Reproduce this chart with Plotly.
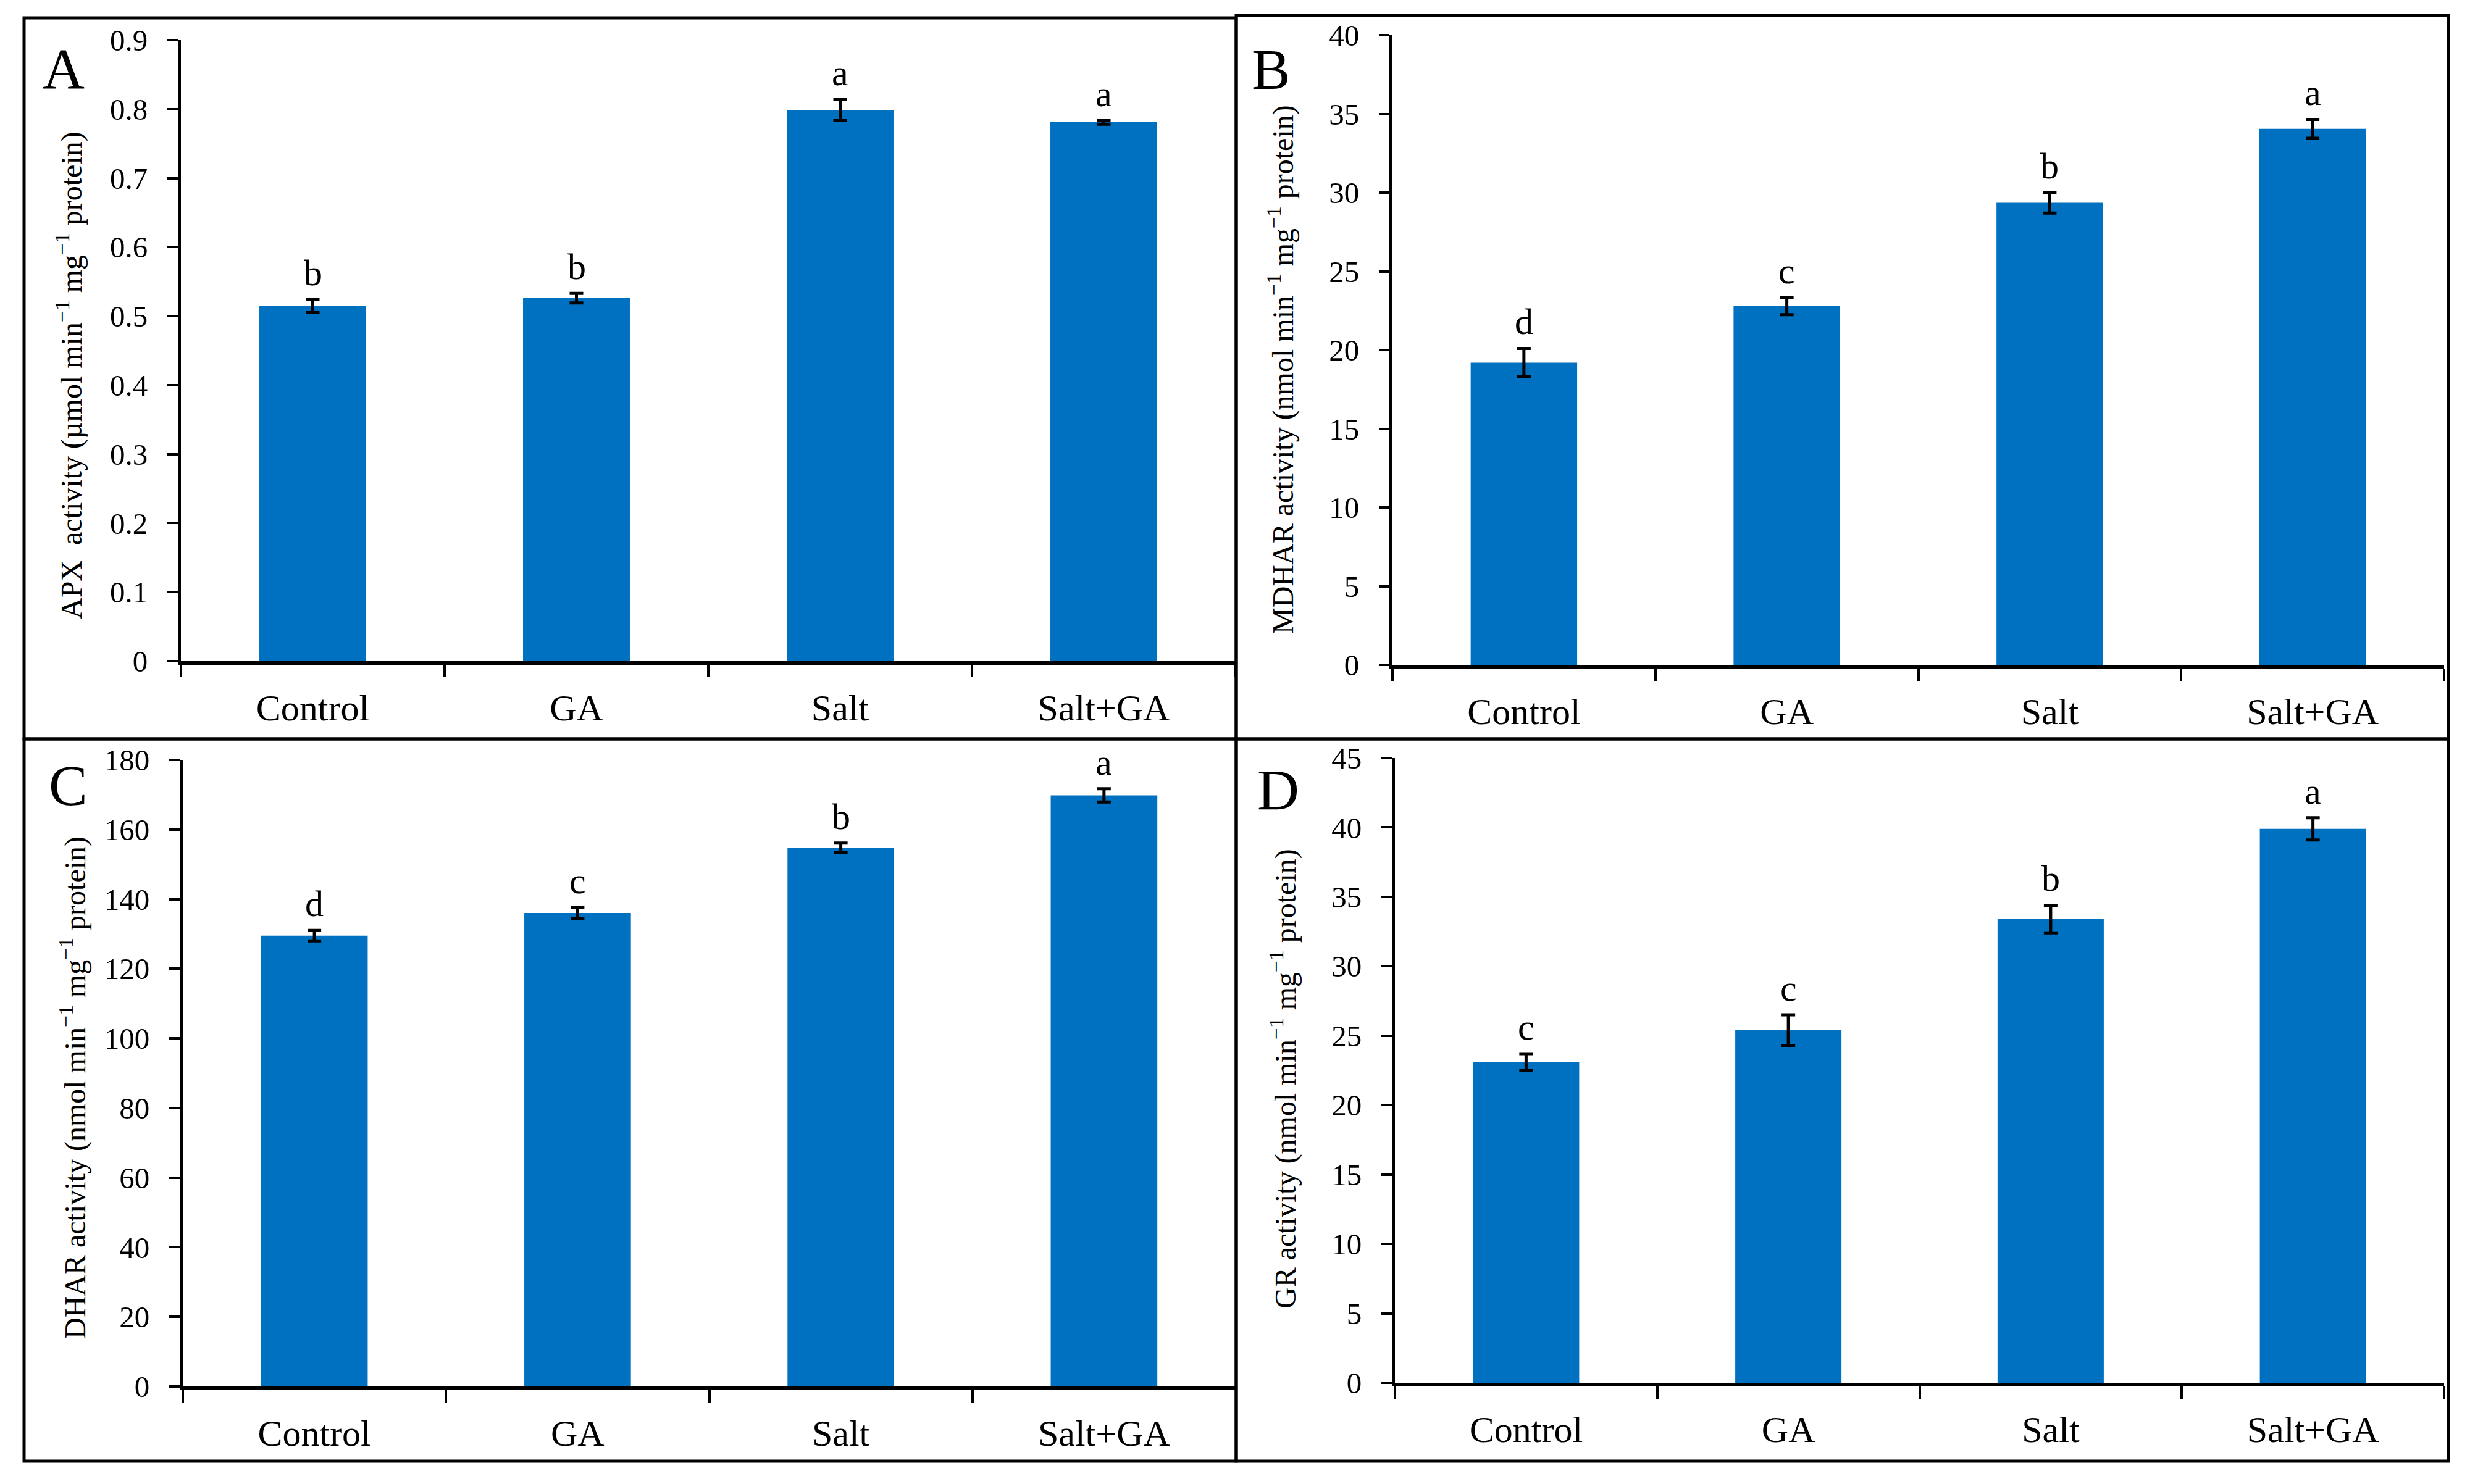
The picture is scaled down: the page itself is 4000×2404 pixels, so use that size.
import plotly.graph_objects as go

W, H = 4000, 2404

categories = ["Control", "GA", "Salt", "Salt+GA"]

apx_values = [0.515, 0.526, 0.799, 0.781]
apx_errors = [0.009, 0.007, 0.015, 0.003]
apx_letters = ["b", "b", "a", "a"]

mdhar_values = [19.2, 22.8, 29.35, 34.05]
mdhar_errors = [0.9, 0.55, 0.65, 0.6]
mdhar_letters = ["d", "c", "b", "a"]

dhar_values = [129.5, 136.0, 154.7, 169.8]
dhar_errors = [1.5, 1.6, 1.4, 1.9]
dhar_letters = ["d", "c", "b", "a"]

gr_values = [23.1, 25.4, 33.4, 39.9]
gr_errors = [0.6, 1.1, 1.0, 0.8]
gr_letters = ["c", "c", "b", "a"]

apx_ticks = [0, 0.1, 0.2, 0.3, 0.4, 0.5, 0.6, 0.7, 0.8, 0.9]
mdhar_ticks = [0, 5, 10, 15, 20, 25, 30, 35, 40]
dhar_ticks = [0, 20, 40, 60, 80, 100, 120, 140, 160, 180]
gr_ticks = [0, 5, 10, 15, 20, 25, 30, 35, 40, 45]

titles = [
    "APX  activity (µmol min<sup>−1</sup> mg<sup>−1</sup> protein)",
    "MDHAR activity (nmol min<sup>−1</sup> mg<sup>−1</sup> protein)",
    "DHAR activity (nmol min<sup>−1</sup> mg<sup>−1</sup> protein)",
    "GR activity (nmol min<sup>−1</sup> mg<sup>−1</sup> protein)",
]
panel_labels = ["A", "B", "C", "D"]

FONT = "Liberation Serif, Times New Roman, serif"
BLUE = "#0070C0"

def px_x(p):
    return p / W

def px_y(p):
    return 1 - p / H

# pixel geometry of each panel: (x0, x1, y_bottom, y_top)
geom = [
    (293, 2001, 1071, 65),
    (2255, 3958, 1077, 57),
    (296, 2001, 2246, 1231),
    (2259, 3958, 2240, 1228),
]
title_pos = [(112, 608), (2074, 599), (118, 1762), (2078, 1748)]
label_pos = [(103, 111), (2058, 112), (110, 1272), (2070, 1279)]

panels = [
    (apx_values, apx_errors, apx_letters, apx_ticks),
    (mdhar_values, mdhar_errors, mdhar_letters, mdhar_ticks),
    (dhar_values, dhar_errors, dhar_letters, dhar_ticks),
    (gr_values, gr_errors, gr_letters, gr_ticks),
]

fig = go.Figure()
annotations = []
shapes = []

for i, (vals, errs, letters, ticks) in enumerate(panels):
    n = i + 1
    xa = "x" if n == 1 else f"x{n}"
    ya = "y" if n == 1 else f"y{n}"
    fig.add_trace(go.Bar(
        x=categories, y=vals, width=0.405,
        marker=dict(color=BLUE, line=dict(width=0)),
        error_y=dict(type="data", array=errs, visible=True,
                     color="black", thickness=5, width=11),
        xaxis=xa, yaxis=ya, showlegend=False, cliponaxis=False,
    ))
    x0, x1, yb, yt = geom[i]
    xkey = "xaxis" if n == 1 else f"xaxis{n}"
    ykey = "yaxis" if n == 1 else f"yaxis{n}"
    fig.layout[xkey] = dict(
        domain=[px_x(x0), px_x(x1)], anchor=ya,
        type="category", range=[-0.5, 3.5], automargin=False,
        showline=True, linewidth=6, linecolor="black",
        ticks="outside", tickson="boundaries", ticklen=20, tickwidth=4,
        tickcolor="black", showgrid=False, zeroline=False,
        tickfont=dict(family=FONT, size=60, color="black"),
        ticklabelstandoff=18,
    )
    fig.layout[ykey] = dict(
        domain=[px_y(yb), px_y(yt)], anchor=xa,
        range=[ticks[0], ticks[-1]], tickvals=ticks, automargin=False,
        ticktext=[f"{t:g}" for t in ticks],
        showline=True, linewidth=5, linecolor="black",
        ticks="outside", ticklen=17, tickwidth=4, tickcolor="black",
        showgrid=False, zeroline=False,
        tickfont=dict(family=FONT, size=49, color="black"),
        ticklabelstandoff=22,
    )
    for c, v, e, l in zip(categories, vals, errs, letters):
        annotations.append(dict(
            x=c, y=v + e, xref=xa, yref=ya, text=l, showarrow=False,
            yanchor="bottom", yshift=8,
            font=dict(family=FONT, size=60, color="black"),
        ))
    tx, ty = title_pos[i]
    annotations.append(dict(
        x=px_x(tx), y=px_y(ty), xref="paper", yref="paper",
        text=titles[i], textangle=-90, showarrow=False,
        xanchor="center", yanchor="middle",
        font=dict(family=FONT, size=48, color="black"),
    ))
    lx, ly = label_pos[i]
    annotations.append(dict(
        x=px_x(lx), y=px_y(ly), xref="paper", yref="paper",
        text=panel_labels[i], showarrow=False,
        xanchor="center", yanchor="middle",
        font=dict(family=FONT, size=94, color="black"),
    ))

# panel frames
frames = [
    (39, 29, 2002, 1197),
    (2002, 25, 3965, 1197),
    (39, 1197, 2002, 2367),
    (2002, 1197, 3965, 2367),
]
for (a, b, c, d) in frames:
    shapes.append(dict(
        type="rect", xref="paper", yref="paper",
        x0=px_x(a), x1=px_x(c), y0=px_y(d), y1=px_y(b),
        line=dict(color="black", width=5), fillcolor="rgba(0,0,0,0)",
    ))

fig.update_layout(
    width=W, height=H,
    margin=dict(l=0, r=0, t=0, b=0, pad=0, autoexpand=False),
    paper_bgcolor="white", plot_bgcolor="white",
    annotations=annotations, shapes=shapes,
    showlegend=False,
)

fig.write_html(
    "out.html",
    config={"displayModeBar": False},
    post_script="document.body.style.margin='0';document.body.style.overflow='hidden';",
)
